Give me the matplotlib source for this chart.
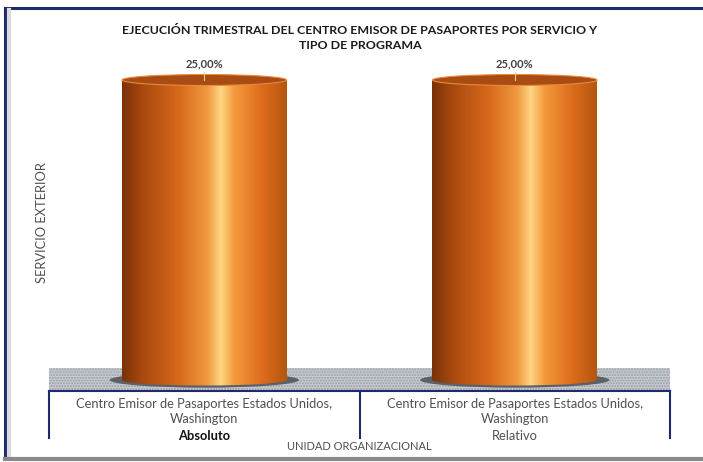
import numpy as np
import matplotlib
matplotlib.use("Agg")
import matplotlib.pyplot as plt
from matplotlib.patches import Ellipse
from matplotlib.colors import LinearSegmentedColormap
from matplotlib.lines import Line2D

# ---- datos ----
unidades = ["Centro Emisor de Pasaportes Estados Unidos,\nWashington",
            "Centro Emisor de Pasaportes Estados Unidos,\nWashington"]
programas = ["Absoluto", "Relativo"]
ejecucion = [0.25, 0.25]
etiquetas = ["25,00%", "25,00%"]

titulo = "EJECUCIÓN TRIMESTRAL DEL CENTRO EMISOR DE PASAPORTES POR SERVICIO Y\nTIPO DE PROGRAMA"
eje_y = "SERVICIO EXTERIOR"
eje_x = "UNIDAD ORGANIZACIONAL"

plt.rcParams['font.family'] = ['Lato', 'DejaVu Sans']

W, H = 703, 462
fig = plt.figure(figsize=(W / 100, H / 100), dpi=100)
fig.patch.set_facecolor("white")

# ejes: x 49..670 px, y 60..391 px (desde arriba)
left, right, top, bottom = 49, 670, 60, 391
ax = fig.add_axes([left / W, 1 - bottom / H, (right - left) / W, (bottom - top) / H])
ax.set_xlim(-0.5, 1.5)
px = 1 / 1200.0           # valor por pixel vertical
ax.set_ylim(-11 * px, (bottom - top - 11) * px)
ax.axis("off")

# suelo con trama
ax.axhspan(-11 * px, 12 * px, facecolor="#c8ccd2", edgecolor="#979ca4",
           hatch="......", linewidth=0, zorder=0)

cmap = LinearSegmentedColormap.from_list("cobre", [
    (0.00, "#7a3208"), (0.12, "#a8480e"), (0.35, "#d86a1c"),
    (0.52, "#f09a40"), (0.60, "#ffd684"), (0.68, "#f59a3c"),
    (0.85, "#dd6c1c"), (1.00, "#b5560f")])

ancho = 0.53
eh = 11 * px  # alto de la elipse en datos
x = np.arange(len(ejecucion))
barras = ax.bar(x, ejecucion, width=ancho, color="none", linewidth=0, zorder=2)

grad = np.linspace(0, 1, 256).reshape(1, -1)
for i, b in enumerate(barras):
    xc = b.get_x() + b.get_width() / 2
    v = b.get_height()
    # sombra en el suelo
    ax.add_patch(Ellipse((xc, 0), ancho * 1.15, eh * 1.4, facecolor="#353a44",
                         alpha=0.7, linewidth=0, zorder=1))
    # cuerpo con degradado
    im = ax.imshow(grad, cmap=cmap, aspect="auto", zorder=3,
                   extent=[b.get_x(), b.get_x() + b.get_width(), 0, v])
    im.set_clip_path(b)
    # base redondeada
    base = ax.imshow(grad, cmap=cmap, aspect="auto", zorder=3,
                     extent=[b.get_x(), b.get_x() + b.get_width(), -eh / 2, eh / 2])
    eb = Ellipse((xc, 0), ancho, eh, facecolor="none", linewidth=0)
    ax.add_patch(eb)
    base.set_clip_path(eb)
    # tapa
    ax.add_patch(Ellipse((xc, v), ancho, eh, facecolor="#a84c14",
                         edgecolor="#e88a3c", linewidth=0.8, zorder=4))
    ax.plot([xc, xc], [v, v + 8 * px], color="#f5c8a0", lw=0.8, zorder=5)
    ax.text(xc, v + 11 * px, etiquetas[i], ha="center", va="bottom",
            fontsize=8, fontweight="bold", color="#404040", zorder=6)

# caja de categorias
navy = "#1f2a6e"
ax.plot([-0.5, 1.5], [-11 * px, -11 * px], color=navy, lw=1.5, clip_on=False)
for xv in (0, 0.5, 1):
    ax.add_line(Line2D([xv, xv], [0, -(438 - bottom) / (bottom - top)],
                       transform=ax.transAxes, color=navy, lw=1.5, clip_on=False))

for i in range(len(unidades)):
    cx = (left + (right - left) * (0.25 + 0.5 * i)) / W
    fig.text(cx, 1 - 411.5 / H, unidades[i], ha="center", va="center",
             fontsize=9.3, color="#505050", linespacing=1.35)
    fig.text(cx, 1 - 436 / H, programas[i], ha="center", va="center",
             fontsize=9.3, color="#111111" if i == 0 else "#505050",
             fontweight="bold" if i == 0 else "normal")

fig.text(359 / W, 1 - 447 / H, eje_x, ha="center", va="center",
         fontsize=8, color="#505050")
fig.text(42 / W, 1 - 223 / H, eje_y, ha="center", va="center", rotation=90,
         fontsize=9.3, color="#505050")
fig.text(360 / W, 1 - 38 / H, titulo, ha="center", va="center",
         fontsize=8.9, fontweight="bold", color="#1a1a1a", linespacing=1.35)

# marco exterior
fig.add_artist(Line2D([5 / W, 1], [1 - 8 / H, 1 - 8 / H], transform=fig.transFigure,
                      color=navy, lw=2.2))
fig.add_artist(Line2D([5 / W, 5 / W], [1 - 8 / H, 1 - 458 / H], transform=fig.transFigure,
                      color=navy, lw=2.2))
fig.add_artist(Line2D([9 / W, 9 / W], [1 - 10 / H, 1 - 457 / H], transform=fig.transFigure,
                      color="#d8dadd", lw=3))
fig.add_artist(Line2D([5 / W, 1], [1 - 459 / H, 1 - 459 / H], transform=fig.transFigure,
                      color="#8a8a8a", lw=3))

fig.savefig("out.png", dpi=100)
